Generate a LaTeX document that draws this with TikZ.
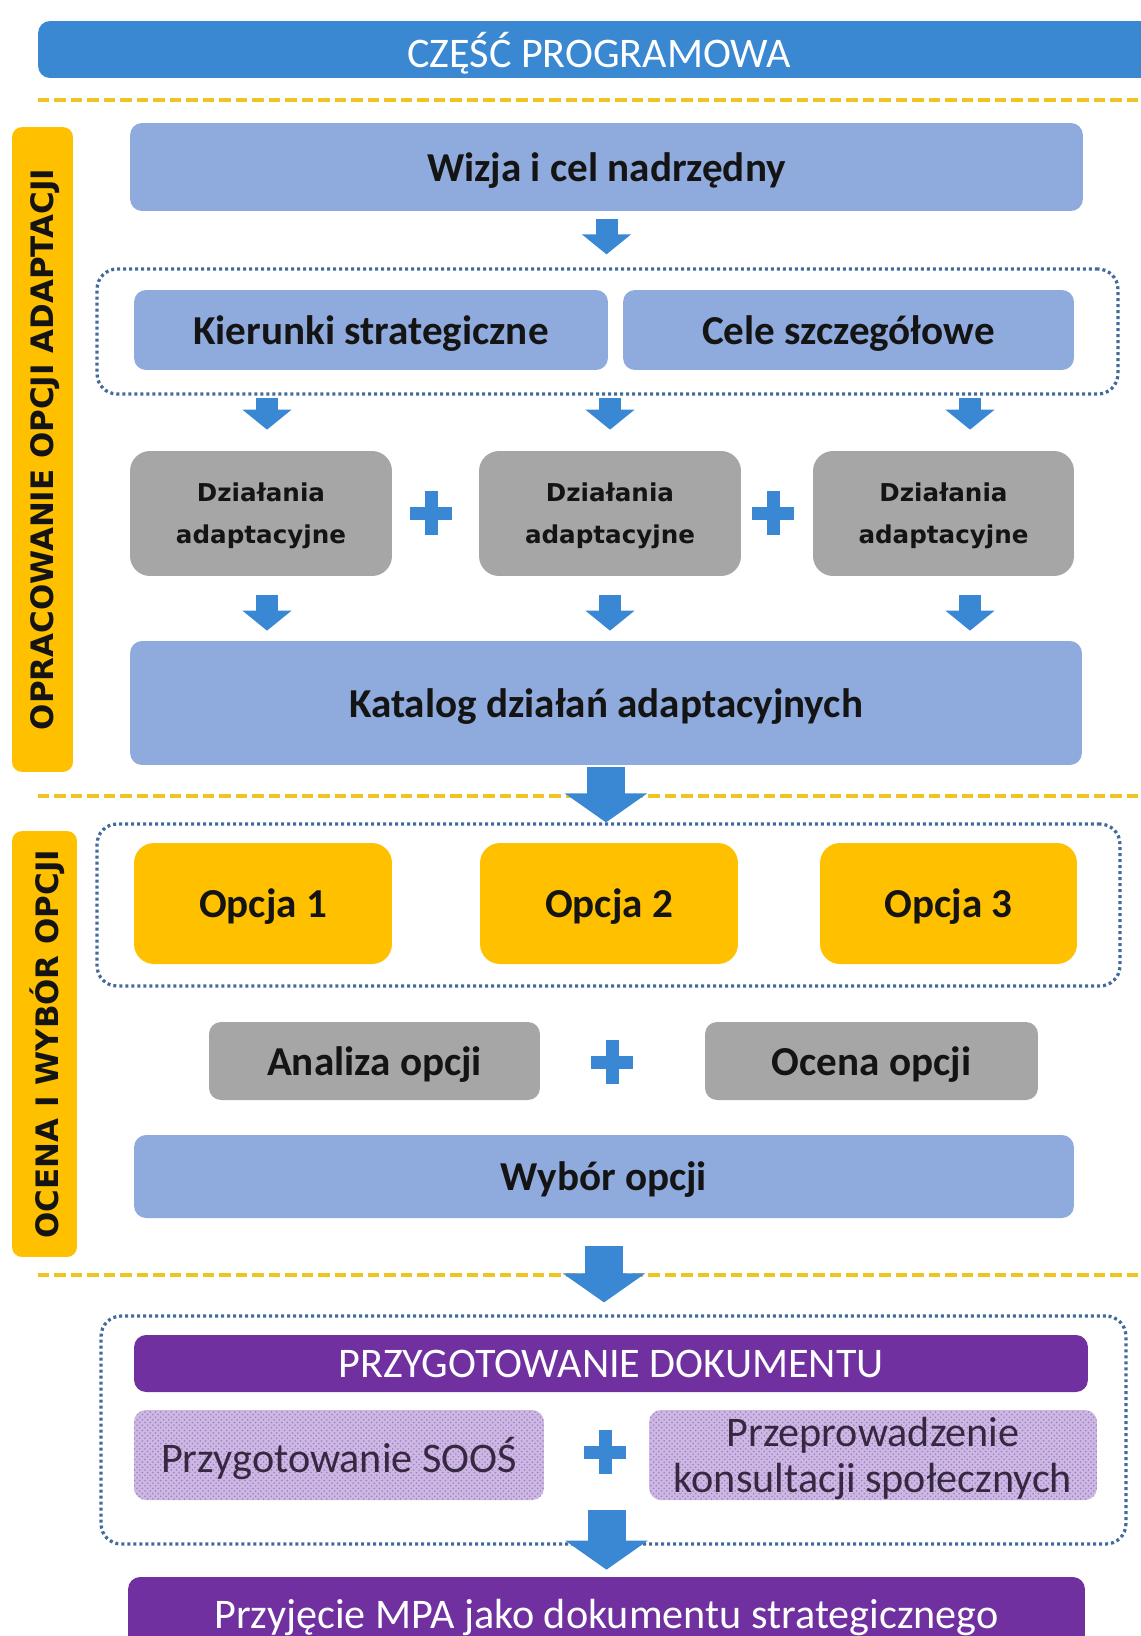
\documentclass[tikz,border=0pt]{standalone}
\usepackage{fontspec}
\setmainfont{Carlito}
\newfontfamily\verdfont{DejaVu Sans}
\usetikzlibrary{arrows.meta,patterns}

\definecolor{topblue}{RGB}{58,136,210}
\definecolor{arrowblue}{RGB}{58,136,212}
\definecolor{boxblue}{RGB}{143,170,220}
\definecolor{boxgrey}{RGB}{166,166,166}
\definecolor{boxorange}{RGB}{255,192,0}
\definecolor{boxpurple}{RGB}{112,48,160}
\definecolor{hatchbase}{RGB}{204,184,226}
\definecolor{hatchdot}{RGB}{160,124,198}
\definecolor{hatchtext}{RGB}{55,40,65}
\definecolor{textdark}{RGB}{20,20,20}
\definecolor{dotblue}{RGB}{66,106,156}
\definecolor{dashyellow}{RGB}{240,196,32}

\tikzset{
  box/.style={rounded corners=0.24cm, inner sep=0pt, align=center, text depth=0pt, text=textdark, font=\fontsize{23.4}{27}\selectfont\bfseries},
  bluebox/.style={box, fill=boxblue},
  greybox/.style={box, fill=boxgrey},
  dzbox/.style={greybox, rounded corners=0.4cm, font=\verdfont\fontsize{14}{24}\selectfont\bfseries},
  optbox/.style={box, fill=boxorange, rounded corners=0.4cm},
  purplebox/.style={box, fill=boxpurple, text=white, font=\fontsize{24}{28}\selectfont},
  hatchbox/.style={box, fill=hatchbase, postaction={pattern=crosshatch dots, pattern color=hatchdot}, text=hatchtext, font=\fontsize{24}{26.5}\selectfont},
  sidebar/.style={box, fill=boxorange, rounded corners=0.2cm, rotate=90, font=\verdfont\fontsize{17.6}{20}\selectfont\bfseries},
  group/.style={draw=dotblue, line width=0.065cm, dash pattern=on 0.06cm off 0.06cm, rounded corners=0.4cm},
  divider/.style={draw=dashyellow, line width=0.07cm, dash pattern=on 0.23cm off 0.1cm},
  smallarrow/.style={draw=arrowblue, line width=0.44cm, -{Triangle[width=0.96cm,length=0.4cm]}},
  bigarrow/.style={draw=arrowblue, line width=0.76cm, -{Triangle[width=1.62cm,length=0.58cm]}},
  plussign/.pic={\fill[arrowblue] (-21,-6.5) rectangle (21,6.5); \fill[arrowblue] (-6.5,-22) rectangle (6.5,22);}
}

\begin{document}
\begin{tikzpicture}[x=0.02cm,y=-0.02cm]
\useasboundingbox[fill=white] (0,0) rectangle (1140,1636);
% header
\node (title) at (599,49.5) [box, fill=topblue, text=white, minimum width=22.44cm, minimum height=1.14cm, font=\fontsize{24}{28}\selectfont] {CZĘŚĆ PROGRAMOWA};
% yellow dividers
\draw[divider] (38,100) -- (1140,100);
\draw[divider] (38,796) -- (1140,796);
\draw[divider] (38,1275) -- (1140,1275);
% side bars
\node (side1) at (42.5,449.5) [sidebar, minimum width=12.9cm, minimum height=1.22cm] {OPRACOWANIE OPCJI ADAPTACJI};
\node (side2) at (44.5,1044) [sidebar, minimum width=8.52cm, minimum height=1.3cm] {OCENA I WYBÓR OPCJI};
% dotted groups
\node (grp1) at (607.5,331.5) [group, minimum width=20.42cm, minimum height=2.5cm] {};
\node (grp2) at (608.5,905) [group, minimum width=20.46cm, minimum height=3.24cm] {};
\node (grp3) at (613.5,1430) [group, minimum width=20.5cm, minimum height=4.56cm] {};
% first stage
\node (wizja) at (606.5,167) [bluebox, minimum width=19.06cm, minimum height=1.76cm] {Wizja i cel nadrzędny};
\node (kier) at (371,330) [bluebox, minimum width=9.48cm, minimum height=1.6cm] {Kierunki strategiczne};
\node (cele) at (848.5,330) [bluebox, minimum width=9.02cm, minimum height=1.6cm] {Cele szczegółowe};
\node (dz1) at (261,513.5) [dzbox, minimum width=5.24cm, minimum height=2.5cm] {Działania\\adaptacyjne};
\node (dz2) at (610,513.5) [dzbox, minimum width=5.24cm, minimum height=2.5cm] {Działania\\adaptacyjne};
\node (dz3) at (943.5,513.5) [dzbox, minimum width=5.22cm, minimum height=2.5cm] {Działania\\adaptacyjne};
\node (katalog) at (606,703) [bluebox, minimum width=19.04cm, minimum height=2.48cm] {Katalog działań adaptacyjnych};
% second stage
\node (opc1) at (263,903.5) [optbox, minimum width=5.16cm, minimum height=2.42cm] {Opcja 1};
\node (opc2) at (609,903.5) [optbox, minimum width=5.16cm, minimum height=2.42cm] {Opcja 2};
\node (opc3) at (948.5,903.5) [optbox, minimum width=5.14cm, minimum height=2.42cm] {Opcja 3};
\node (analiza) at (374.5,1061) [greybox, minimum width=6.62cm, minimum height=1.56cm] {Analiza opcji};
\node (ocena) at (871.5,1061) [greybox, minimum width=6.66cm, minimum height=1.56cm] {Ocena opcji};
\node (wybor) at (604,1176.5) [bluebox, minimum width=18.8cm, minimum height=1.66cm] {Wybór opcji};
% third stage
\node (dok) at (611,1363.5) [purplebox, minimum width=19.08cm, minimum height=1.14cm] {PRZYGOTOWANIE DOKUMENTU};
\node (soos) at (339,1455) [hatchbox, minimum width=8.2cm, minimum height=1.8cm] {Przygotowanie SOOŚ};
\node (konsult) at (873,1455) [hatchbox, minimum width=8.96cm, minimum height=1.8cm] {Przeprowadzenie\\konsultacji społecznych};
\node (mpa) at (606.5,1613.5) [purplebox, minimum width=19.14cm, minimum height=1.46cm] {Przyjęcie MPA jako dokumentu strategicznego};
% plus signs
\pic at (431,513) {plussign};
\pic at (773,513) {plussign};
\pic at (612,1062) {plussign};
\pic at (605,1452) {plussign};
% arrows
\draw[smallarrow, shorten <=0.16cm, shorten >=0.26cm] (wizja.south) -- (wizja.south |- grp1.north);
\draw[smallarrow, shorten <=0.04cm, shorten >=0.42cm] ([xshift=0.12cm]dz1.north |- grp1.south) -- ([xshift=0.12cm]dz1.north);
\draw[smallarrow, shorten <=0.04cm, shorten >=0.42cm] (dz2.north |- grp1.south) -- (dz2.north);
\draw[smallarrow, shorten <=0.04cm, shorten >=0.42cm] ([xshift=0.53cm]dz3.north |- grp1.south) -- ([xshift=0.53cm]dz3.north);
\draw[smallarrow, shorten <=0.38cm, shorten >=0.2cm] ([xshift=0.12cm]dz1.south) -- ([xshift=0.12cm]dz1.south |- katalog.north);
\draw[smallarrow, shorten <=0.38cm, shorten >=0.2cm] (dz2.south) -- (dz2.south |- katalog.north);
\draw[smallarrow, shorten <=0.38cm, shorten >=0.2cm] ([xshift=0.53cm]dz3.south) -- ([xshift=0.53cm]dz3.south |- katalog.north);
\draw[bigarrow, shorten <=0.04cm] (katalog.south) -- (katalog.south |- grp2.north);
\draw[bigarrow, shorten <=0.56cm, shorten >=0.24cm] (wybor.south) -- (wybor.south |- grp3.north);
\draw[bigarrow, shorten <=0.2cm, shorten >=0.14cm] (mpa.north |- soos.south) -- (mpa.north);
\end{tikzpicture}
\end{document}
